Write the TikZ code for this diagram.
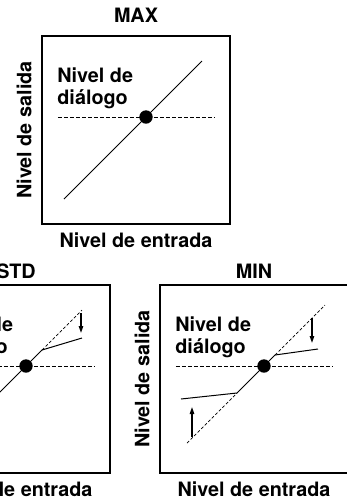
\documentclass[tikz,border=0pt]{standalone}
\usepackage{fontspec}
\setmainfont{TeX Gyre Heros}
\usepackage{tikz}
\usetikzlibrary{arrows.meta, positioning, calc}

\tikzset{
  panel/.style={draw, line width=0.6pt, minimum size=94pt, inner sep=0pt},
  axistext/.style={font=\bfseries\fontsize{9.9}{11}\selectfont, inner sep=0pt},
  levelline/.style={dash pattern=on 2pt off 1pt, line width=0.4pt},
  refline/.style={dash pattern=on 1.5pt off 1pt, line width=0.35pt},
  gain/.style={line width=0.5pt},
  gainarrow/.style={-{Triangle[length=3.5pt, width=2.2pt]}, line width=0.7pt},
  dialdot/.style={circle, fill, minimum size=6.7pt, inner sep=0pt},
}

\begin{document}
\begin{tikzpicture}[x=0.5pt, y=-0.5pt]
  \useasboundingbox (0,0) rectangle (347,500);

  % Panels: frame, titles, axis texts, dialogue level
  \foreach \name/\px/\py/\ttl/\tgap in {max/42/36/MAX/21, std/-78/285/STD/14, min/160/285/MIN/14} {
    \begin{scope}[shift={(\px,\py)}]
      \node[panel] (\name-box) at (94,94) {};
      \node[axistext] (\name-title) at (94,-\tgap) {\ttl};
      \node[axistext] (\name-in) at (94,204) {Nivel de entrada};
      \node[axistext, rotate=90] (\name-out) at (-18,94) {Nivel de salida};
      \node[axistext, align=left, anchor=north west] (\name-text) at (15,31) {Nivel de\\diálogo};
      \coordinate (\name-l) at (16,81);
      \coordinate (\name-r) at (173,81);
      \draw[levelline] (\name-l) -- (\name-r);
      \node[dialdot] (\name-dot) at (104,81) {};
    \end{scope}
  }

  % MAX
  \begin{scope}[shift={(42,36)}]
    \coordinate (max-lo) at (22,163);
    \coordinate (max-hi) at (160,25);
    \draw[gain] (max-lo) -- (max-hi);
  \end{scope}

  % STD
  \begin{scope}[shift={(-78,285)}]
    \coordinate (std-lo) at (22,163);
    \coordinate (std-knee) at (120,65);
    \coordinate (std-hi) at (160,25);
    \coordinate (std-end) at (160,53);
    \draw[gain] (std-lo) -- (std-knee) -- (std-end);
    \draw[refline] (std-knee) -- (std-hi);
    \coordinate (std-a1) at (159,28);
    \coordinate (std-a2) at (159,48);
    \draw[gainarrow] (std-a1) -- (std-a2);
  \end{scope}

  % MIN
  \begin{scope}[shift={(160,285)}]
    \coordinate (min-lo) at (27,158);
    \coordinate (min-kl) at (77,108);
    \coordinate (min-ku) at (115,70);
    \coordinate (min-hi) at (165,20);
    \coordinate (min-fl) at (21,114);
    \coordinate (min-fu) at (158,64);
    \draw[refline] (min-lo) -- (min-kl);
    \draw[refline] (min-ku) -- (min-hi);
    \draw[gain] (min-fl) -- (min-kl) -- (min-ku) -- (min-fu);
    \coordinate (min-a1) at (152,33);
    \coordinate (min-a2) at (152,58);
    \coordinate (min-b1) at (32,152);
    \coordinate (min-b2) at (32,122);
    \draw[gainarrow] (min-a1) -- (min-a2);
    \draw[gainarrow] (min-b1) -- (min-b2);
  \end{scope}
\end{tikzpicture}
\end{document}
